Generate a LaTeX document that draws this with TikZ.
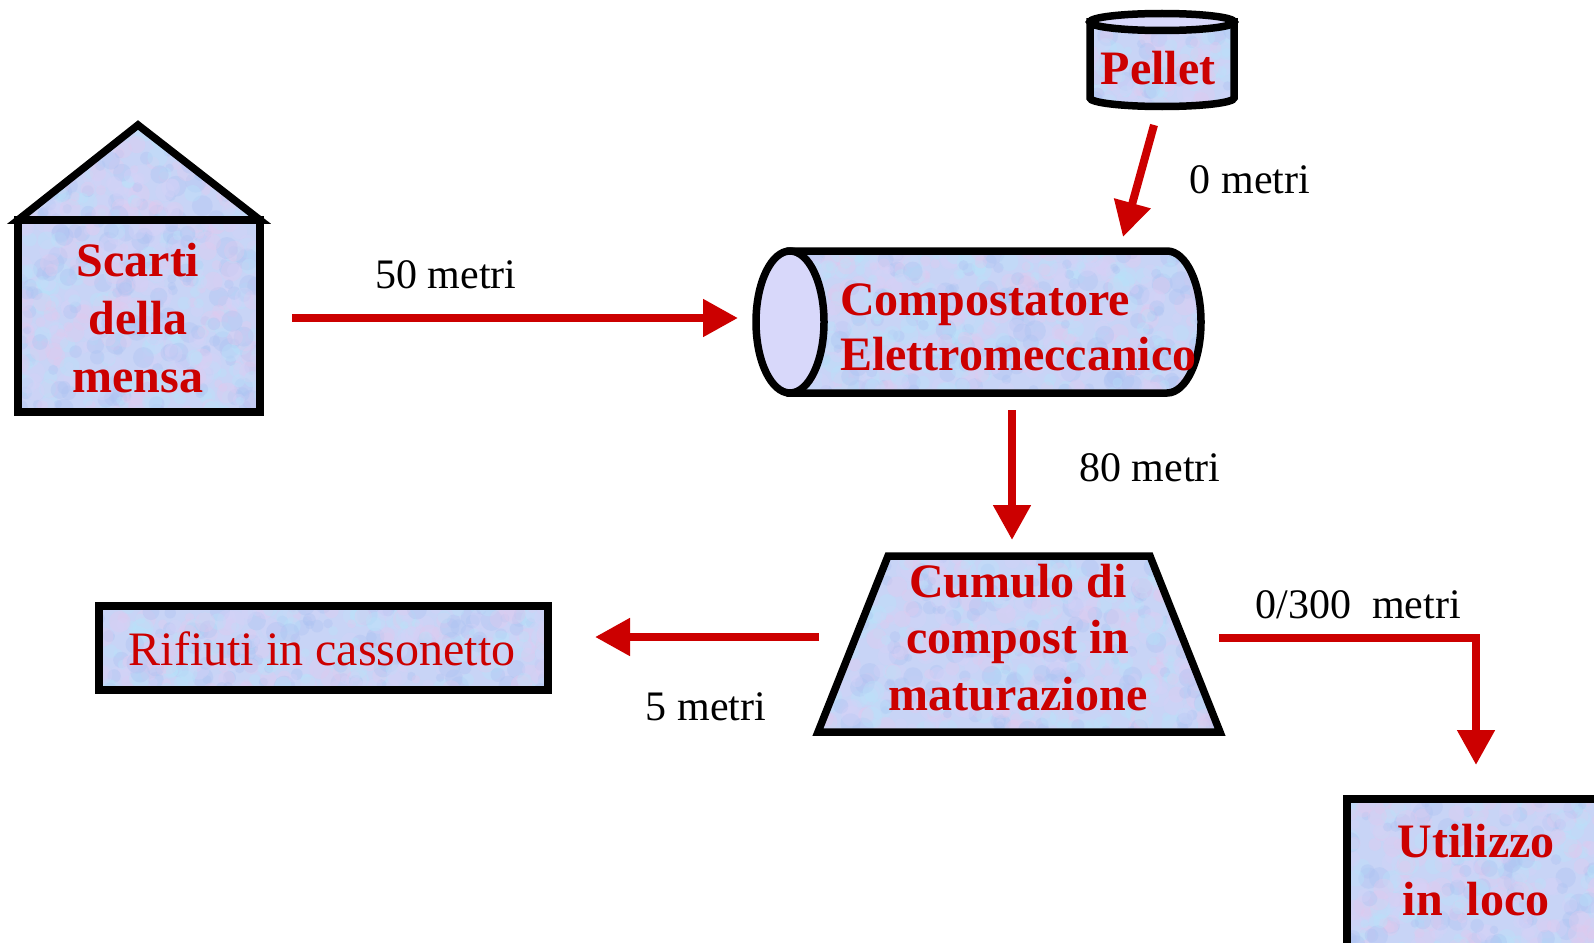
\documentclass[tikz,border=0pt]{standalone}
\usepackage{fontspec}
\setmainfont{Liberation Serif}
\usetikzlibrary{arrows.meta}
\definecolor{arrowred}{RGB}{204,0,0}
\definecolor{txtred}{RGB}{204,0,0}
\definecolor{texfill}{RGB}{200,212,246}
\definecolor{endfill}{RGB}{216,216,250}
\definecolor{mcA}{RGB}{184,228,250}
\definecolor{mcB}{RGB}{226,202,238}
\definecolor{mcC}{RGB}{172,194,242}
\definecolor{mcD}{RGB}{214,210,248}
\pgfmathdeclarerandomlist{mottlecolors}{{mcA}{mcB}{mcC}{mcD}}
\newcommand{\mymottle}[5]{%
  \foreach \i in {1,...,#5}{%
    \pgfmathsetmacro{\mx}{#1+rnd*(#3-#1)}%
    \pgfmathsetmacro{\my}{#2+rnd*(#4-#2)}%
    \pgfmathsetmacro{\mr}{4+rnd*7}%
    \pgfmathrandomitem{\mc}{mottlecolors}%
    \fill[\mc, opacity=0.35] (\mx,\my) circle[radius=\mr];%
  }}
\begin{document}
\begin{tikzpicture}[x=1pt,y=-1pt,
  shapeline/.style={line width=7.5pt, draw=black, fill=texfill, line join=miter},
  mottled/.style n args={5}{path picture={\mymottle{#1}{#2}{#3}{#4}{#5}}},
  endcap/.style={line width=7.5pt, draw=black, fill=endfill},
  flow/.style={draw=arrowred, line width=8pt, line join=miter, -{Triangle[length=35pt,width=36pt]}},
  bigtxt/.style={text=txtred, inner sep=0pt, anchor=base, font=\fontsize{48}{58}\selectfont\bfseries},
  lbl/.style={inner sep=0pt, anchor=base, font=\fontsize{42}{50}\selectfont}
]
\pgfmathsetseed{4242}
\useasboundingbox (0,0) rectangle (1594,942);

% house
\draw[shapeline, mottled={18}{125}{260}{220}{260}] (18,220) -- (138,125) -- (260,220) -- cycle;
\draw[shapeline, mottled={18}{220}{260}{412}{500}] (18,220) rectangle (260,412);
\node[bigtxt] (scarti) at (138,392) {\begin{tabular}[b]{@{}c@{}}Scarti\\della\\mensa\end{tabular}};

% cylinder
\draw[shapeline, mottled={756}{251}{1201}{393}{650}] (790,251) -- (1167,251) arc[start angle=-90, end angle=90, x radius=34, y radius=71] -- (790,393) -- cycle;
\draw[endcap] (790,322) ellipse [x radius=34, y radius=71];
\node[bigtxt, anchor=base west, font=\fontsize{48}{55}\selectfont\bfseries] (comp) at (840,370) {\begin{tabular}[b]{@{}l@{}}Compostatore\\Elettromeccanico\end{tabular}};

% pellet
\draw[shapeline, mottled={1090}{13}{1234}{107}{150}] (1090,22) -- (1090,98) arc[start angle=180, end angle=0, x radius=72, y radius=8.5] -- (1234,22) -- cycle;
\draw[endcap] (1162,22) ellipse [x radius=72, y radius=8.5];
\node[bigtxt] (pellet) at (1158,84) {Pellet};

% trapezoid
\draw[shapeline, mottled={818}{556}{1220}{732}{720}] (888,556) -- (1150,556) -- (1220,732) -- (818,732) -- cycle;
\node[bigtxt, font=\fontsize{48}{56.5}\selectfont\bfseries] (cumulo) at (1018,710) {\begin{tabular}[b]{@{}c@{}}Cumulo di\\compost in\\maturazione\end{tabular}};

% rifiuti
\draw[shapeline, mottled={99}{606}{548}{690}{400}] (99,606) rectangle (548,690);
\node[bigtxt, font=\fontsize{48}{58}\selectfont] (rifiuti) at (322,665) {Rifiuti in cassonetto};

% utilizzo
\begin{scope}
\clip (0,0) rectangle (1594,942);
\draw[shapeline, mottled={1347}{799}{1600}{950}{360}] (1347,799) rectangle (1625,975);
\end{scope}
\node[bigtxt] (util) at (1476,915) {\begin{tabular}[b]{@{}c@{}}Utilizzo\\in\ \ loco\end{tabular}};

% arrows
\coordinate (a1s) at (292,318); \coordinate (a1e) at (738,318);
\coordinate (a2s) at (1154,125); \coordinate (a2e) at (1123,237);
\coordinate (a3s) at (1012,410); \coordinate (a3e) at (1012,540);
\coordinate (a4s) at (819,637); \coordinate (a4e) at (595,637);
\coordinate (a5s) at (1219,638); \coordinate (a5c) at (1476,638); \coordinate (a5e) at (1476,765);
\draw[flow] (a1s) -- (a1e);
\draw[flow] (a2s) -- (a2e);
\draw[flow] (a3s) -- (a3e);
\draw[flow] (a4s) -- (a4e);
\draw[flow] (a5s) -- (a5c) -- (a5e);

% labels
\node[lbl] (l50) at (446,288) {50 metri};
\node[lbl] (l0) at (1250,193) {0 metri};
\node[lbl] (l80) at (1150,481) {80 metri};
\node[lbl] (l5) at (706,720) {5 metri};
\node[lbl] (l300) at (1358,618) {0/300\ \ metri};
\end{tikzpicture}
\end{document}
